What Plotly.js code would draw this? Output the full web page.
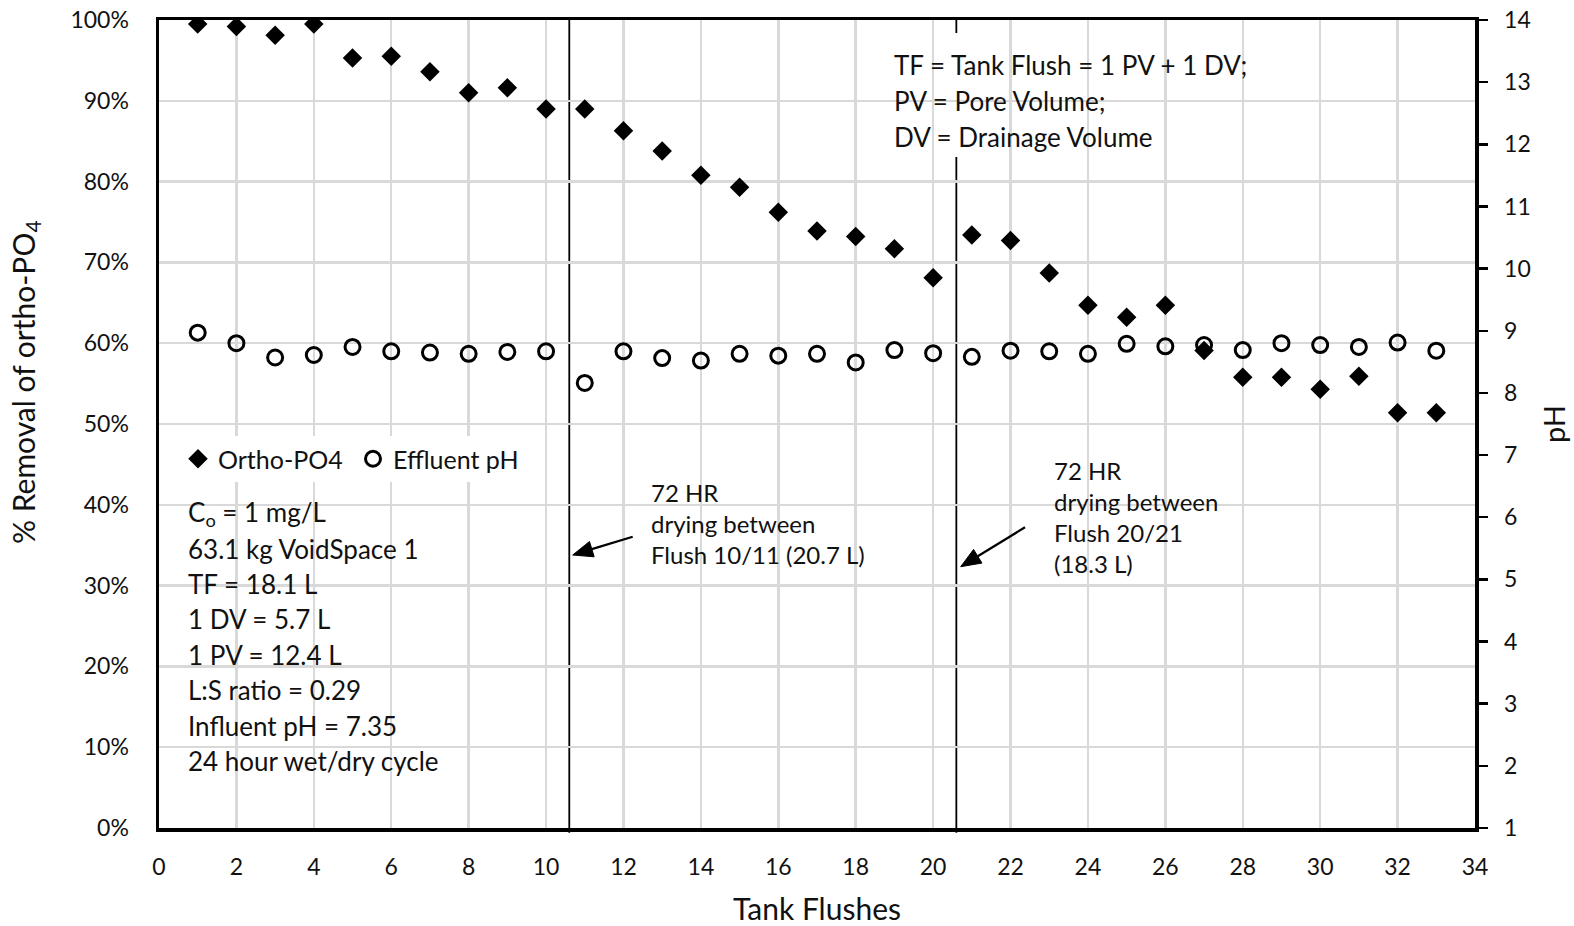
<!DOCTYPE html>
<html><head><meta charset="utf-8">
<script src="https://cdn.plot.ly/plotly-3.0.1.min.js"></script>
<style>html,body{margin:0;padding:0;background:#fff}#chart{width:1574px;height:926px}</style>
</head><body><div id="chart"></div>
<script>
// ---------- data ----------
const tankFlushes = [1,2,3,4,5,6,7,8,9,10,11,12,13,14,15,16,17,18,19,20,21,22,23,24,25,26,27,28,29,30,31,32,33];
const orthoPO4Removal = [99.5,99.2,98.1,99.5,95.3,95.5,93.6,91.0,91.6,89.0,89.0,86.3,83.8,80.8,79.3,76.2,73.9,73.2,71.7,68.1,73.4,72.7,68.7,64.7,63.2,64.7,59.1,55.8,55.8,54.3,55.9,51.4,51.4];
const effluentPH = [8.97,8.80,8.57,8.61,8.74,8.67,8.65,8.63,8.66,8.67,8.16,8.67,8.56,8.52,8.63,8.60,8.63,8.49,8.69,8.64,8.58,8.68,8.67,8.63,8.79,8.75,8.77,8.69,8.80,8.77,8.74,8.81,8.68];
const dryingBreaks = [10.6, 20.6];
const xTickVals = [0,2,4,6,8,10,12,14,16,18,20,22,24,26,28,30,32,34];
const leftTickVals = [0,10,20,30,40,50,60,70,80,90,100];
const leftTickText = ['0%','10%','20%','30%','40%','50%','60%','70%','80%','90%','100%'];
const rightTickVals = [1,2,3,4,5,6,7,8,9,10,11,12,13,14];
const seriesNames = ['Ortho-PO4', 'Effluent pH'];
const infoLines = ['C<sub>o</sub> = 1 mg/L','63.1 kg VoidSpace 1','TF = 18.1 L','1 DV = 5.7 L','1 PV = 12.4 L','L:S ratio = 0.29','Influent pH = 7.35','24 hour wet/dry cycle'];
const defLines = ['TF = Tank Flush = 1 PV + 1 DV;','PV = Pore Volume;','DV = Drainage Volume'];
const note1Lines = ['72 HR','drying between','Flush 10/11 (20.7 L)'];
const note2Lines = ['72 HR','drying between','Flush 20/21','(18.3 L)'];

// ---------- layout helpers ----------
const W = 1574, H = 926, M = {l:159, r:99, t:20, b:98};
const PW = W - M.l - M.r, PHt = H - M.t - M.b;
const px2x = p => (p - M.l) / PW;
const px2y = p => (H - M.b - p) / PHt;
const FONT = 'Lato, "Open Sans", sans-serif';
const TXT = '#111111';
const GRID = '#d9d9d9';

function textBlock(lines, left, firstBaseline, pitch, fs) {
  return lines.map((t, i) => ({
    xref:'paper', yref:'paper', x: px2x(left), y: px2y(firstBaseline + i*pitch - 0.33*fs),
    xanchor:'left', yanchor:'middle', text:t, showarrow:false,
    font:{family:FONT, size:fs, color:TXT}
  }));
}
function whiteBox(x0, y0, x1, y1) {
  return {type:'rect', xref:'paper', yref:'paper', layer:'between',
    x0:px2x(x0), x1:px2x(x1), y0:px2y(y1), y1:px2y(y0),
    fillcolor:'#ffffff', line:{width:0}};
}
function arrowShapes(tipX, tipY, tailX, tailY) {
  const dx = tailX - tipX, dy = tailY - tipY, L = Math.hypot(dx, dy);
  const ux = dx / L, uy = dy / L, headLen = 20, halfW = 8;
  const bx = tipX + ux*headLen, by = tipY + uy*headLen;
  const p1 = [bx - uy*halfW, by + ux*halfW], p2 = [bx + uy*halfW, by - ux*halfW];
  const P = (x, y) => px2x(x) + ',' + px2y(y);
  return [
    {type:'line', xref:'paper', yref:'paper', layer:'above', x0:px2x(tailX), y0:px2y(tailY),
     x1:px2x(bx), y1:px2y(by), line:{color:'#000', width:2.2}},
    {type:'path', xref:'paper', yref:'paper', layer:'above',
     path:'M' + P(tipX, tipY) + ' L' + P(p1[0], p1[1]) + ' L' + P(p2[0], p2[1]) + ' Z',
     fillcolor:'#000', line:{color:'#000', width:1}}
  ];
}

const traces = [
  {x: tankFlushes, y: orthoPO4Removal, name: seriesNames[0], type:'scatter', mode:'markers',
   marker:{symbol:'diamond', size:15, color:'#000'}, xaxis:'x', yaxis:'y'},
  {x: tankFlushes, y: effluentPH, name: seriesNames[1], type:'scatter', mode:'markers',
   marker:{symbol:'circle-open', size:15, color:'#000', line:{width:3, color:'#000'}}, xaxis:'x', yaxis:'y2'}
];

let shapes = [];
dryingBreaks.forEach(b => shapes.push({type:'line', xref:'x', yref:'paper', layer:'between',
  x0:b, x1:b, y0:-0.006, y1:1, line:{color:'#000', width:1.8}}));
shapes.push(whiteBox(161, 433, 528, 790));
shapes.push(whiteBox(867, 33, 1463, 157));
shapes.push(whiteBox(622, 463, 904, 610));
shapes.push(whiteBox(1025, 442, 1257, 602));
shapes = shapes.concat(arrowShapes(572.7, 555, 632.7, 536.7), arrowShapes(960.7, 566.7, 1025, 527.3));

const annotations = [].concat(
  textBlock(infoLines, 186, 521.7, 35.4, 26),
  textBlock(defLines, 891.7, 73.3, 36.2, 26),
  textBlock(note1Lines, 649, 500, 31, 24),
  textBlock(note2Lines, 1052, 478.3, 31.2, 24),
  [{xref:'paper', yref:'paper', x:px2x(25), y:px2y(382), text:'% Removal of ortho-PO<sub>4</sub>',
    textangle:-90, showarrow:false, xanchor:'center', yanchor:'middle',
    font:{family:FONT, size:30, color:TXT}}]
);

const layout = {
  width:W, height:H, margin:M, paper_bgcolor:'#fff', plot_bgcolor:'#fff',
  font:{family:FONT, color:TXT},
  showlegend:true,
  legend:{orientation:'h', x:px2x(178), y:px2y(459), xanchor:'left', yanchor:'middle',
    bgcolor:'#fff', font:{family:FONT, size:25, color:TXT}, itemwidth:30, tracegroupgap:0,
    entrywidthmode:'pixels', entrywidth:130},
  xaxis:{range:[0,34], tickvals:xTickVals, showgrid:true, gridcolor:GRID, gridwidth:2.5,
    zeroline:false, showline:true, linecolor:'#000', linewidth:3.5, mirror:true, ticks:'',
    ticklabelstandoff:16, tickfont:{size:23, family:FONT, color:TXT},
    title:{text:'Tank Flushes', font:{size:30, family:FONT, color:TXT}, standoff:22}, automargin:false},
  yaxis:{range:[0,100], tickvals:leftTickVals, ticktext:leftTickText, showgrid:true, gridcolor:GRID, gridwidth:2.5,
    zeroline:false, showline:true, linecolor:'#000', linewidth:3.5, ticks:'',
    ticklabelstandoff:22, tickfont:{size:23, family:FONT, color:TXT}, automargin:false},
  yaxis2:{range:[1,14], tickvals:rightTickVals, overlaying:'y', side:'right', showgrid:false,
    zeroline:false, showline:true, linecolor:'#000', linewidth:3.5, ticks:'outside', ticklen:9,
    tickwidth:2.5, tickcolor:'#000', ticklabelstandoff:12, tickfont:{size:23, family:FONT, color:TXT},
    title:{text:'pH', font:{size:29, family:FONT, color:TXT}, standoff:16}, automargin:false},
  shapes:shapes, annotations:annotations
};

Plotly.newPlot('chart', traces, layout, {displayModeBar:false, staticPlot:true});
</script></body></html>
